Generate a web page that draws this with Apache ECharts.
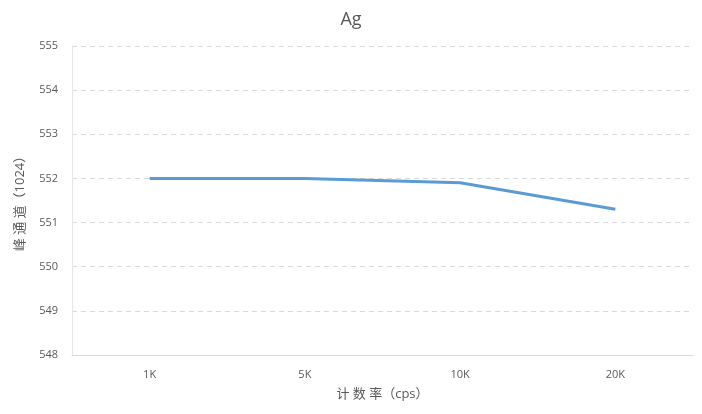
<!DOCTYPE html>
<html><head><meta charset="utf-8">
<script src="https://cdn.jsdelivr.net/npm/echarts@6/dist/echarts.min.js"></script>
<style>html,body{margin:0;padding:0;background:#fff}#c{width:702px;height:414px}</style>
</head><body><div id="c"></div>
<script>
var categories = ['1K', '5K', '10K', '20K'];
var values = [552, 552, 551.9, 551.3];
var yTicks = [548, 549, 550, 551, 552, 553, 554, 555];

var chart = echarts.init(document.getElementById('c'));
var font = '"Open Sans", "Noto Sans CJK SC", sans-serif';
chart.setOption({
  animation: false,
  title: { text: 'Ag', left: 'center', top: 6, textStyle: { fontFamily: font, fontSize: 18, fontWeight: 'normal', color: '#595959' } },
  grid: { left: 72, right: 9, top: 46, bottom: 59 },
  xAxis: {
    type: 'category', data: categories, boundaryGap: true,
    name: '计 数 率（cps）', nameLocation: 'middle', nameGap: 33,
    nameTextStyle: { fontFamily: font, fontSize: 13, color: '#595959' },
    axisLine: { lineStyle: { color: '#d9d9d9' } },
    axisTick: { show: false },
    axisLabel: { fontFamily: font, fontSize: 11, color: '#595959', margin: 14 }
  },
  yAxis: {
    type: 'value', min: yTicks[0], max: yTicks[yTicks.length - 1], interval: 1,
    name: '峰 通 道（1024）', nameLocation: 'middle', nameGap: 45,
    nameTextStyle: { fontFamily: font, fontSize: 13, color: '#595959' },
    axisLine: { show: true, lineStyle: { color: '#e6e6e6' } },
    axisTick: { show: false },
    axisLabel: { fontFamily: font, fontSize: 11, color: '#595959', margin: 14 },
    splitLine: { lineStyle: { color: '#d9d9d9', type: [5, 4] } }
  },
  series: [{
    type: 'line', data: values, symbol: 'none',
    lineStyle: { color: '#5b9bd5', width: 3 }
  }]
});
</script></body></html>
